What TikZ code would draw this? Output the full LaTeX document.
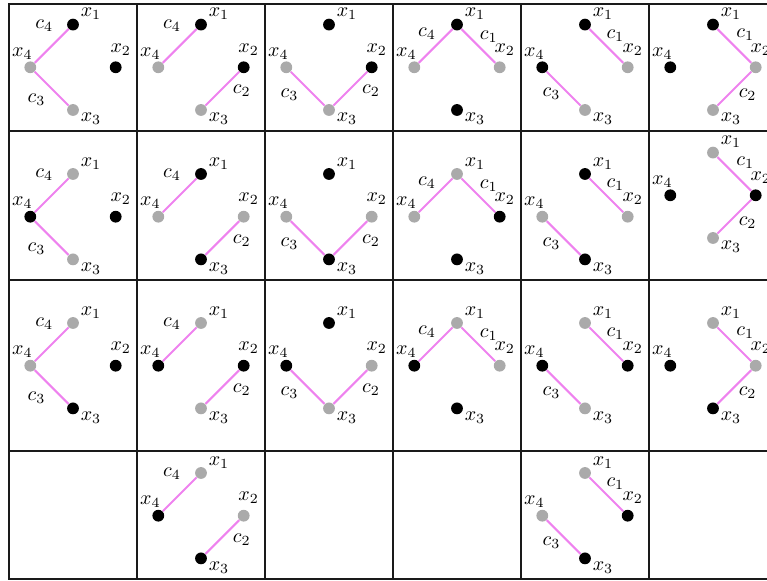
\documentclass[tikz,border=0pt]{standalone}
\usepackage{tikz}
\usepackage{xcolor}
\definecolor{cEdge}{HTML}{EE82EE}
\definecolor{cOff}{HTML}{AAAAAA}
\definecolor{cGrid}{HTML}{1A1A1A}
\tikzset{
  bdot/.style={circle,fill=black,inner sep=0pt,minimum size=5.9pt},
  gdot/.style={circle,fill=cOff,inner sep=0pt,minimum size=5.9pt},
  cedge/.style={line width=1pt,draw=cEdge},
  xlbl/.style={inner sep=0pt,anchor=center},
  clbl/.style={inner sep=0pt,anchor=center},
  gridline/.style={line width=1pt,draw=cGrid,line cap=rect},
}
% edge lists per column: number/from/to/label offset
\newcommand{\edgesA}{4/x4/x1/-28.7/-41.5,3/x3/x4/-36.5/32}
\newcommand{\edgesB}{4/x4/x1/-29/-41.8,2/x2/x3/40.7/23.8}
\newcommand{\edgesC}{3/x3/x4/-39.5/27,2/x2/x3/42/23.8}
\newcommand{\edgesD}{4/x4/x1/-30/-34,1/x1/x2/31.7/-30.6}
\newcommand{\edgesE}{1/x1/x2/30.4/-32,3/x3/x4/-33.5/26.8}
\newcommand{\edgesF}{1/x1/x2/32.3/-32.5,2/x2/x3/34.6/27.5}
% one cell: name, centre x, centre y, looks of x1..x4, edge list
\newcommand{\statecell}[8]{%
  \node[#4] (#1x1) at (#2,#3-42.7) {};
  \node[#5] (#1x2) at (#2+42.7,#3) {};
  \node[#6] (#1x3) at (#2,#3+42.7) {};
  \node[#7] (#1x4) at (#2-42.7,#3) {};
  \node[xlbl] (#1t1) at ([shift={(18,-10.5)}]#1x1) {$x_1$};
  \node[xlbl] (#1t2) at ([shift={(5,-17.5)}]#1x2) {$x_2$};
  \node[xlbl] (#1t3) at ([shift={(18,9)}]#1x3) {$x_3$};
  \node[xlbl] (#1t4) at ([shift={(-8,-14)}]#1x4) {$x_4$};
  \foreach \cn/\ea/\eb/\lx/\ly in #8 {
    \draw[cedge] (#1\ea) -- (#1\eb);
    \node[clbl] (#1c\cn) at (#2+\lx,#3+\ly) {$c_\cn$};
  }
}

\begin{document}
\begin{tikzpicture}[x=0.5pt,y=-0.5pt]
  \useasboundingbox (0,0) rectangle (767,581);
  \clip (0,0) rectangle (767,581);
  % table
  \foreach \gx in {9,137,265,393,521,649,777}
    \draw[gridline] (\gx,4) -- (\gx,579);
  \foreach \gy in {4,131.5,280,451.5,579}
    \draw[gridline] (9,\gy) -- (777,\gy);
  % row 1
  \statecell{a1}{73}{67.3}{bdot}{bdot}{gdot}{gdot}{\edgesA}
  \statecell{a2}{201}{67.3}{bdot}{bdot}{gdot}{gdot}{\edgesB}
  \statecell{a3}{329}{67.3}{bdot}{bdot}{gdot}{gdot}{\edgesC}
  \statecell{a4}{457}{67.3}{bdot}{gdot}{bdot}{gdot}{\edgesD}
  \statecell{a5}{585}{67.3}{bdot}{gdot}{gdot}{bdot}{\edgesE}
  \statecell{a6}{713}{67.3}{bdot}{gdot}{gdot}{bdot}{\edgesF}
  % row 2
  \statecell{b1}{73}{216.7}{gdot}{bdot}{gdot}{bdot}{\edgesA}
  \statecell{b2}{201}{216.7}{bdot}{gdot}{bdot}{gdot}{\edgesB}
  \statecell{b3}{329}{216.7}{bdot}{gdot}{bdot}{gdot}{\edgesC}
  \statecell{b4}{457}{216.7}{gdot}{bdot}{bdot}{gdot}{\edgesD}
  \statecell{b5}{585}{216.7}{bdot}{gdot}{bdot}{gdot}{\edgesE}
  \statecell{b6}{713}{195.3}{gdot}{bdot}{gdot}{bdot}{\edgesF}
  % row 3
  \statecell{c1}{73}{365.7}{gdot}{bdot}{bdot}{gdot}{\edgesA}
  \statecell{c2}{201}{365.7}{gdot}{bdot}{gdot}{bdot}{\edgesB}
  \statecell{c3}{329}{365.7}{bdot}{gdot}{gdot}{bdot}{\edgesC}
  \statecell{c4}{457}{365.7}{gdot}{gdot}{bdot}{bdot}{\edgesD}
  \statecell{c5}{585}{365.7}{gdot}{bdot}{gdot}{bdot}{\edgesE}
  \statecell{c6}{713}{365.7}{gdot}{gdot}{bdot}{bdot}{\edgesF}
  % row 4
  \statecell{d2}{201}{515.7}{gdot}{gdot}{bdot}{bdot}{\edgesB}
  \statecell{d5}{585}{515.7}{gdot}{bdot}{bdot}{gdot}{\edgesE}
\end{tikzpicture}
\end{document}
